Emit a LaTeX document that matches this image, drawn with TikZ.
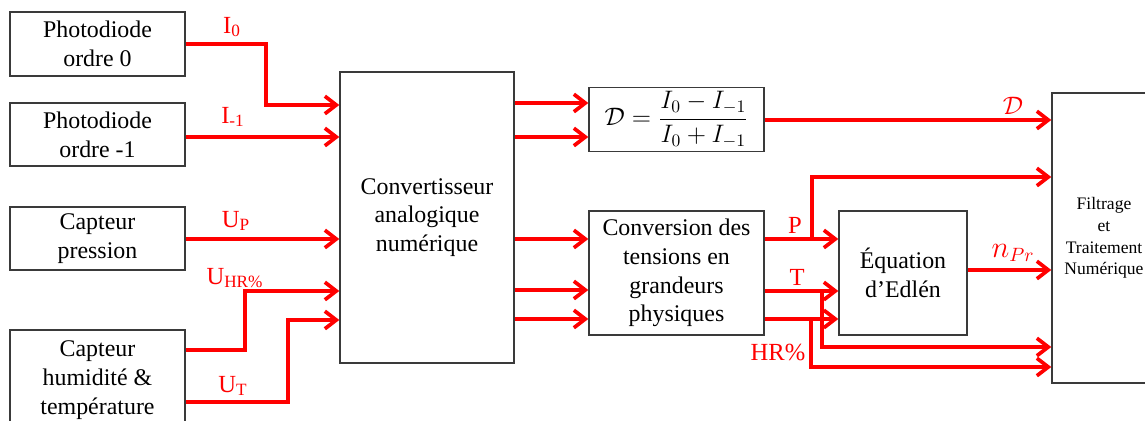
\documentclass[tikz,border=0pt]{standalone}
\usepackage{fontspec}
\setmainfont{Liberation Serif}
\usepackage{amsmath}
\usepackage{xcolor}
\definecolor{sigred}{HTML}{FF0000}
\definecolor{boxline}{HTML}{3A3A3A}
\usetikzlibrary{arrows.meta, calc}

\begin{document}
\begin{tikzpicture}[
  x=0.02cm, y=-0.02cm,
  block/.style={rectangle, draw=boxline, line width=0.8pt, align=center, inner sep=2pt,
                font=\fontsize{13.6}{16.4}\selectfont},
  sig/.style={draw=sigred, line width=2.1pt, -{Straight Barb[length=6.5pt, width=10pt]}},
  lab/.style={text=sigred, font=\fontsize{14}{16}\selectfont, inner sep=0pt},
]
  \useasboundingbox (0,0) rectangle (1145,421);

  % Capteurs
  \node[block, minimum width=3.5cm, minimum height=1.28cm] (pd0) at (97.5,44) {Photodiode\\ordre 0};
  \node[block, minimum width=3.5cm, minimum height=1.26cm] (pd1) at (97.5,134.5) {Photodiode\\ordre -1};
  \node[block, minimum width=3.5cm, minimum height=1.26cm] (pcap) at (97.5,238.5) {Capteur\\pression};
  \node[block, minimum width=3.5cm, minimum height=2cm] (hcap) at (97.5,380) {Capteur\\humidité \&\\température};

  % Traitement
  \node[block, minimum width=3.48cm, minimum height=5.82cm] (adc) at (427,217.5) {Convertisseur\\analogique\\numérique};
  \node[block, minimum width=3.5cm, minimum height=1.26cm] (dfrac) at (676.5,119.5)
    {$\mathcal{D}=\dfrac{I_0-I_{-1}}{I_0+I_{-1}}$};
  \node[block, minimum width=3.5cm, minimum height=2.48cm] (conv) at (676.5,273) {Conversion des\\tensions en\\grandeurs\\physiques};
  \node[block, minimum width=2.56cm, minimum height=2.48cm] (edlen) at (903,273) {Équation\\d’Edlén};
  \node[block, minimum width=2.08cm, minimum height=5.8cm, font=\fontsize{10}{12.4}\selectfont] (filt) at (1104,238)
    {Filtrage\\et\\Traitement\\Numérique};

  % Entrees du convertisseur
  \draw[sig] (pd0.east) -- ++(80,0) |- (adc.west |- 0,105);
  \draw[sig] (pd1.east |- 0,137) -- (adc.west |- 0,137);
  \draw[sig] (pcap.east |- 0,239) -- (adc.west |- 0,239);
  \draw[sig] (hcap.east |- 0,350) -- ++(59,0) |- (adc.west |- 0,291);
  \draw[sig] (hcap.east |- 0,402) -- ++(102,0) |- (adc.west |- 0,320);

  % Sorties du convertisseur
  \draw[sig] (adc.east |- 0,103) -- (dfrac.west |- 0,103);
  \draw[sig] (adc.east |- 0,137) -- (dfrac.west |- 0,137);
  \draw[sig] (adc.east |- 0,239) -- (conv.west |- 0,239);
  \draw[sig] (adc.east |- 0,290) -- (conv.west |- 0,290);
  \draw[sig] (adc.east |- 0,319) -- (conv.west |- 0,319);

  % Grandeurs physiques
  \draw[sig] (dfrac.east |- 0,120) -- (filt.west |- 0,120);
  \draw[sig] (conv.east |- 0,239) -- (edlen.west |- 0,239);
  \draw[sig] (conv.east |- 0,291) -- (edlen.west |- 0,291);
  \draw[sig] (conv.east |- 0,319) -- (edlen.west |- 0,319);
  \draw[sig] (edlen.east |- 0,270) -- (filt.west |- 0,270);

  % Derivations vers le filtrage
  \coordinate (jP) at (812,239);
  \coordinate (jT) at (822,291);
  \coordinate (jHR) at (811,319);
  \draw[sig] (jP) |- (filt.west |- 0,177);
  \draw[sig] (jT) |- (filt.west |- 0,347);
  \draw[sig] (jHR) |- (filt.west |- 0,367);

  % Etiquettes
  \node[lab] (lI0) at (232,27) {I\textsubscript{0}};
  \node[lab] (lI1) at (233,117) {I\textsubscript{-1}};
  \node[lab] (lUP) at (236,221) {U\textsubscript{P}};
  \node[lab] (lUHR) at (235,278) {U\textsubscript{HR\%}};
  \node[lab] (lUT) at (233,386) {U\textsubscript{T}};
  \node[lab] (lD) at (1013,106) {$\mathcal{D}$};
  \node[lab] (lP) at (795,225) {P};
  \node[lab] (lT) at (797,277) {T};
  \node[lab] (lHR) at (778,352) {HR\%};
  \node[lab, font=\fontsize{16}{18}\selectfont] (lnPr) at (1013,253) {$n_{Pr}$};
\end{tikzpicture}
\end{document}
